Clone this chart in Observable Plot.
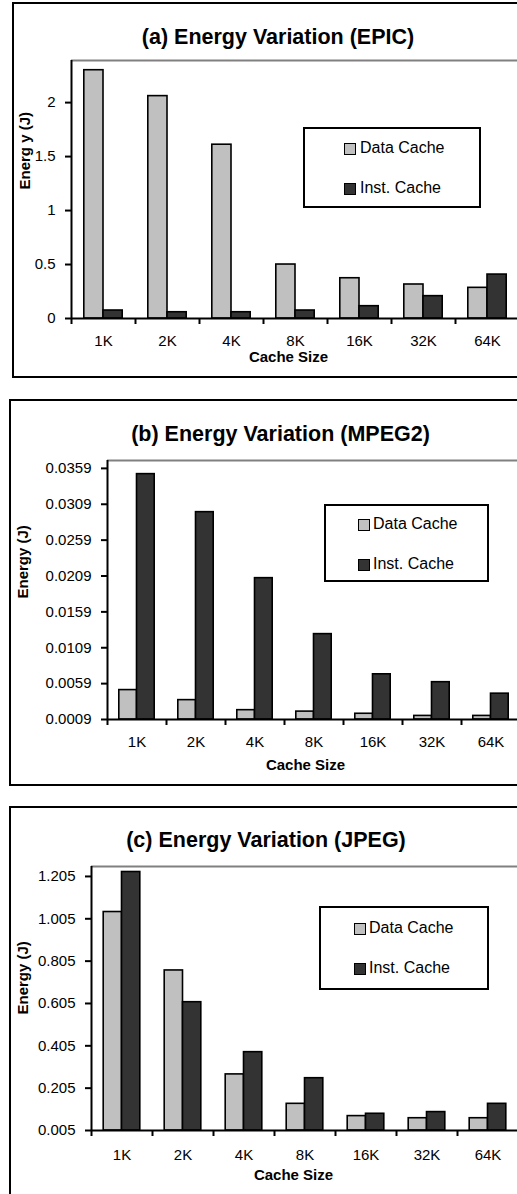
<!DOCTYPE html>
<html><head><meta charset="utf-8">
<script src="https://cdn.jsdelivr.net/npm/d3@7"></script>
<script src="https://cdn.jsdelivr.net/npm/@observablehq/plot@0.6"></script>
<style>
html,body{margin:0;padding:0;background:#fff;}
body{width:517px;height:1194px;overflow:hidden;position:relative;font-family:"Liberation Sans",Arial,sans-serif;color:#000;}
.panel{position:absolute;border:2px solid #000;box-sizing:border-box;}
.svgwrap{position:absolute;left:0;width:540px;}
.title{position:absolute;font-weight:bold;font-size:21.5px;white-space:nowrap;line-height:21px;transform:translateX(-50%);}
.legend{position:absolute;border:2px solid #000;box-sizing:border-box;background:#fff;}
.sw{position:absolute;width:12px;height:12px;border:1.5px solid #000;box-sizing:border-box;}
.lt{position:absolute;font-size:16px;line-height:16px;white-space:nowrap;}
</style>
</head><body>
<script>
// ---- data ----
const categories = ["1K", "2K", "4K", "8K", "16K", "32K", "64K"];
const seriesNames = ["Data Cache", "Inst. Cache"];
const seriesColors = ["#c0c0c0", "#333333"];

const epicData = [2.30, 2.06, 1.61, 0.50, 0.373, 0.315, 0.284];
const epicInst = [0.074, 0.058, 0.058, 0.074, 0.114, 0.207, 0.407];
const epicTicks = [0, 0.5, 1, 1.5, 2];
const epicTickLabels = ["0", "0.5", "1", "1.5", "2"];

const mpegData = [0.0050, 0.0036, 0.0022, 0.0020, 0.0017, 0.0014, 0.0014];
const mpegInst = [0.0351, 0.0298, 0.0206, 0.0128, 0.0072, 0.0061, 0.0045];
const mpegTicks = [0.0009, 0.0059, 0.0109, 0.0159, 0.0209, 0.0259, 0.0309, 0.0359];
const mpegTickLabels = ["0.0009", "0.0059", "0.0109", "0.0159", "0.0209", "0.0259", "0.0309", "0.0359"];

const jpegData = [1.037, 0.761, 0.270, 0.131, 0.073, 0.063, 0.063];
const jpegInst = [1.226, 0.611, 0.375, 0.252, 0.084, 0.092, 0.131];
const jpegTicks = [0.005, 0.205, 0.405, 0.605, 0.805, 1.005, 1.205];
const jpegTickLabels = ["0.005", "0.205", "0.405", "0.605", "0.805", "1.005", "1.205"];

const titles = ["(a) Energy Variation (EPIC)", "(b) Energy Variation (MPEG2)", "(c) Energy Variation (JPEG)"];
const yLabels = ["Energ y (J)", "Energy (J)", "Energy (J)"];
const xLabel = "Cache Size";

// ---- layout ----
const panels = [
  {data: epicData, inst: epicInst, ticks: epicTicks, labels: epicTickLabels, domain: [0, 2.39],
   box: {left: 12, top: 2, bottom: 378}, plot: {top: 60, bottom: 318, left: 71, right: 519},
   title: {cx: 278, base: 44}, ylab: {cx: 25, cy: 189}, xlab: {cx: 288, cy: 361}, tickPad: 17,
   legend: {x0: 303, y0: 127, x1: 481, y1: 208, sw: 344, tx: 360, ys: [148, 188]}},
  {data: mpegData, inst: mpegInst, ticks: mpegTicks, labels: mpegTickLabels, domain: [0.0009, 0.0370],
   box: {left: 9, top: 399, bottom: 786}, plot: {top: 460, bottom: 719, left: 107, right: 520},
   title: {cx: 280.5, base: 441}, ylab: {cx: 23, cy: 598}, xlab: {cx: 305, cy: 769}, tickPad: 17,
   legend: {x0: 324, y0: 504, x1: 489, y1: 582, sw: 358, tx: 373, ys: [524, 564]}},
  {data: jpegData, inst: jpegInst, ticks: jpegTicks, labels: jpegTickLabels, domain: [0.005, 1.252],
   box: {left: 9, top: 806, bottom: 1250}, plot: {top: 866, bottom: 1130, left: 91, right: 518},
   title: {cx: 266, base: 847}, ylab: {cx: 23, cy: 1014}, xlab: {cx: 293, cy: 1179}, tickPad: 19,
   legend: {x0: 319, y0: 906, x1: 489, y1: 990, sw: 354, tx: 369, ys: [928, 968]}}
];

const W = 540;
panels.forEach((p, k) => {
  const box = document.createElement("div");
  box.className = "panel";
  Object.assign(box.style, {left: p.box.left + "px", top: p.box.top + "px", width: (W - p.box.left + 20) + "px", height: (p.box.bottom - p.box.top) + "px"});
  document.body.appendChild(box);

  const t = document.createElement("div");
  t.className = "title";
  t.textContent = titles[k];
  Object.assign(t.style, {left: p.title.cx + "px", top: (p.title.base - 17) + "px"});
  document.body.appendChild(t);

  const svgTop = p.box.top;
  const H = p.box.bottom - p.box.top;
  const mt = p.plot.top - svgTop, mb = H - (p.plot.bottom - svgTop);
  const ml = p.plot.left, mr = W - p.plot.right;
  const step = (p.plot.right - p.plot.left) / categories.length;
  const d0 = p.domain[0], d1 = p.domain[1];
  const rowsD = categories.map((c, i) => ({cat: c, series: seriesNames[0], value: p.data[i]}));
  const rowsI = categories.map((c, i) => ({cat: c, series: seriesNames[1], value: p.inst[i]}));
  const frameCx = (p.plot.left + p.plot.right) / 2;
  const frameCy = (p.plot.top + p.plot.bottom) / 2;

  const chart = Plot.plot({
    width: W, height: H,
    marginTop: mt, marginBottom: mb, marginLeft: ml, marginRight: mr,
    x: {type: "band", domain: categories, padding: 0, axis: null},
    y: {domain: p.domain, axis: null},
    style: {fontFamily: '"Liberation Sans", Arial, sans-serif', fontSize: "15px", background: "transparent", overflow: "visible", maxWidth: "none", color: "#000"},
    marks: [
      Plot.ruleY([d1], {stroke: "#808080", strokeWidth: 2}),
      Plot.barY(rowsD, {x: "cat", y1: () => d0, y2: "value", fill: seriesColors[0], stroke: "#000", strokeWidth: 1.6,
        insetLeft: 0.2 * step, insetRight: 0.5 * step}),
      Plot.barY(rowsI, {x: "cat", y1: () => d0, y2: "value", fill: seriesColors[1], stroke: "#000", strokeWidth: 1.6,
        insetLeft: 0.5 * step, insetRight: 0.2 * step}),
      Plot.ruleY([d0], {stroke: "#000", strokeWidth: 2}),
      Plot.ruleX([categories[0]], {y1: d0, y2: d1, dx: -step / 2, stroke: "#000", strokeWidth: 2}),
      Plot.axisY({ticks: p.ticks, tickFormat: (d) => p.labels[p.ticks.indexOf(d)], tickSize: 6, tickPadding: 10,
        strokeWidth: 2, label: null, fontSize: 15}),
      Plot.axisX({tickSize: 0, tickPadding: p.tickPad, label: null, fontSize: 15}),
      Plot.axisX({tickSize: 6, text: null, label: null, dx: -step / 2, strokeWidth: 2}),
      Plot.axisX({ticks: [categories[categories.length - 1]], tickSize: 6, text: null, label: null, dx: step / 2, strokeWidth: 2}),
      Plot.text([yLabels[k]], {frameAnchor: "left", rotate: -90, dx: p.ylab.cx - p.plot.left, dy: p.ylab.cy - frameCy,
        fontWeight: "bold", fontSize: 15}),
      Plot.text([xLabel], {frameAnchor: "bottom", dx: p.xlab.cx - frameCx, dy: p.xlab.cy - p.plot.bottom,
        fontWeight: "bold", fontSize: 15})
    ]
  });
  const wrap = document.createElement("div");
  wrap.className = "svgwrap";
  wrap.style.top = svgTop + "px";
  wrap.appendChild(chart);
  document.body.appendChild(wrap);

  const L = p.legend;
  const lg = document.createElement("div");
  lg.className = "legend";
  Object.assign(lg.style, {left: L.x0 + "px", top: L.y0 + "px", width: (L.x1 - L.x0) + "px", height: (L.y1 - L.y0) + "px"});
  document.body.appendChild(lg);
  seriesNames.forEach((s, j) => {
    const sw = document.createElement("div");
    sw.className = "sw";
    Object.assign(sw.style, {left: L.sw + "px", top: (L.ys[j] - 5) + "px", background: seriesColors[j]});
    document.body.appendChild(sw);
    const tx = document.createElement("div");
    tx.className = "lt";
    tx.textContent = s;
    Object.assign(tx.style, {left: L.tx + "px", top: (L.ys[j] - 8) + "px"});
    document.body.appendChild(tx);
  });
});
</script>
</body></html>
